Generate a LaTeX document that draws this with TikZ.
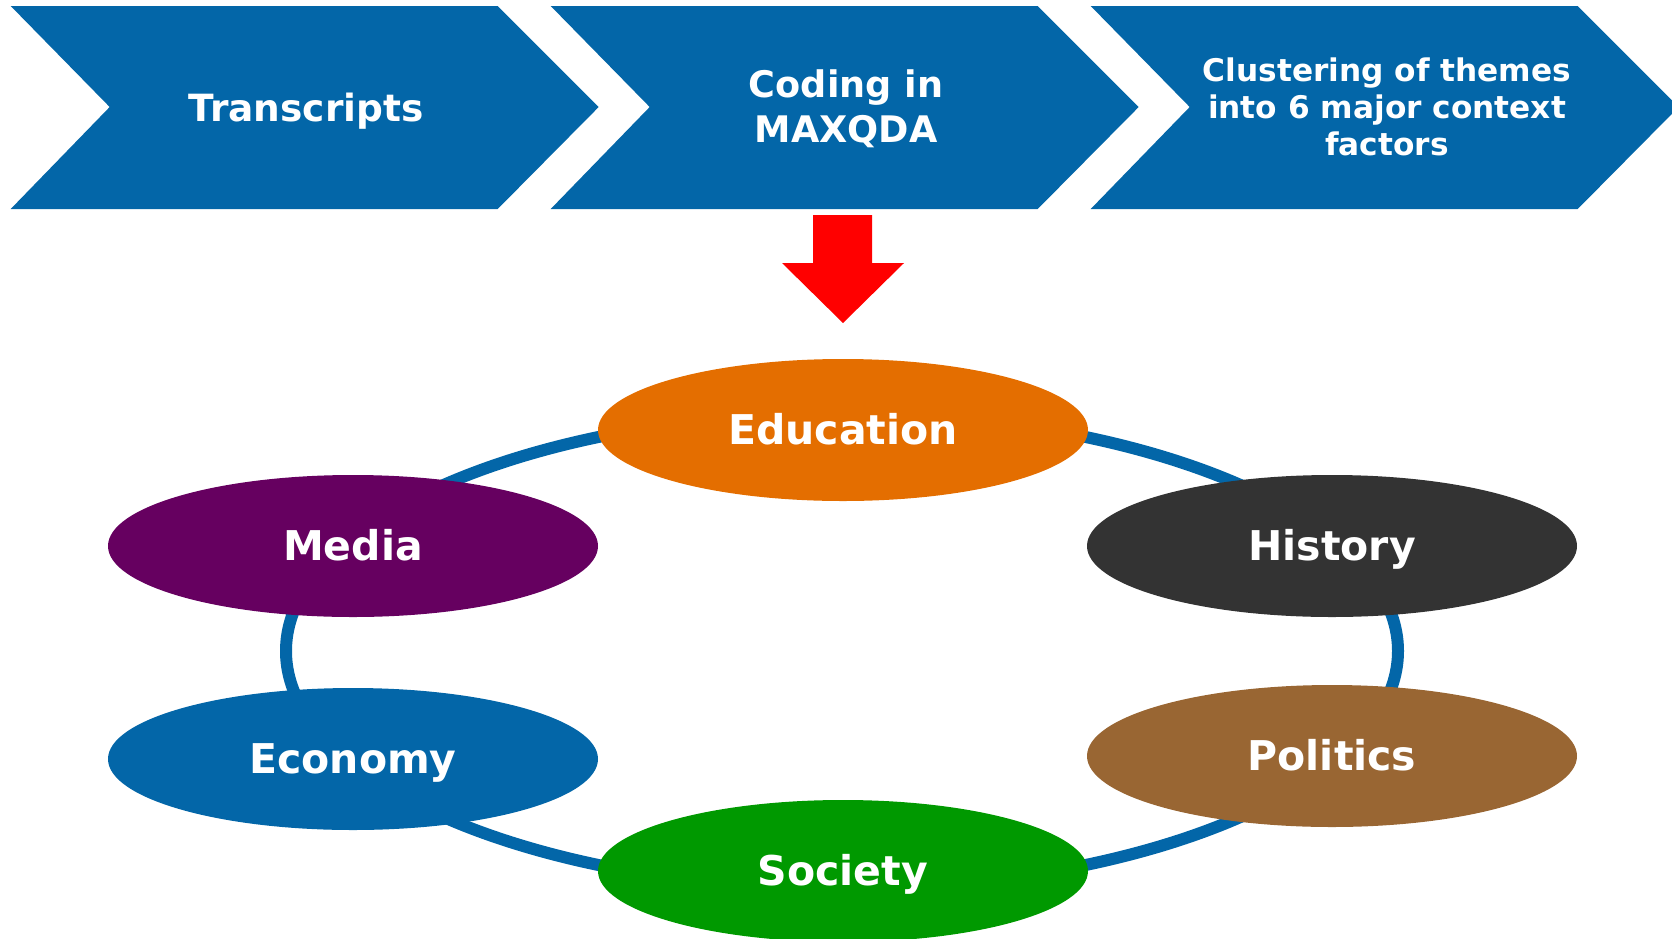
\documentclass[tikz,border=0pt]{standalone}
\usepackage{fontspec}
\setmainfont{DejaVu Sans}
\usetikzlibrary{shapes.geometric}
\definecolor{cblue}{HTML}{0366A8}
\definecolor{corange}{HTML}{E46E00}
\definecolor{cpurple}{HTML}{660060}
\definecolor{cgrey}{HTML}{333333}
\definecolor{cbrown}{HTML}{996633}
\definecolor{cgreen}{HTML}{009900}
\definecolor{cred}{HTML}{FF0000}
\begin{document}
\begin{tikzpicture}[x=0.5pt,y=-0.5pt,
  chevtext/.style={text=white,align=center,inner sep=0pt},
  factor/.style={ellipse,inner sep=0pt,minimum width=245pt,minimum height=71pt,
    text=white,font=\bfseries\fontsize{20.5}{24}\selectfont,
    text height=14.9pt,text depth=0pt}]
\useasboundingbox (0,0) rectangle (1672,938);
% chevrons
\foreach \L in {10.7,550.7,1090.7}
  \fill[cblue] (\L,6) -- ++(487,0) -- ++(101,101) -- ++(-101,102) -- ++(-487,0) -- ++(99,-102) -- cycle;
\node[chevtext,font=\bfseries\fontsize{18.75}{22}\selectfont,anchor=base] (t1) at (306,121) {Transcripts};
\node[chevtext,font=\bfseries\fontsize{18.3}{22.5}\selectfont] (t2) at (846,109) {Coding in\\MAXQDA};
\node[chevtext,font=\bfseries\fontsize{15.6}{18.4}\selectfont] (t3) at (1387,107) {Clustering of themes\\into 6 major context\\factors};
% red arrow
\fill[cred] (813,215) -- (872,215) -- (872,263) -- (904,263) -- (843,323) -- (782,263) -- (813,263) -- cycle;
% ring
\coordinate (ring) at (842,651);
\draw[cblue,line width=6pt] (ring) ellipse [x radius=556, y radius=238];
% factors
\node[factor,fill=corange] (edu) at (843,430) {Education};
\node[factor,fill=cpurple] (med) at (353,546) {Media};
\node[factor,fill=cblue] (eco) at (353,759) {Economy};
\node[factor,fill=cgrey] (his) at (1332,546) {History};
\node[factor,fill=cbrown] (pol) at (1332,756) {Politics};
\node[factor,fill=cgreen] (soc) at (843,871) {Society};
\end{tikzpicture}
\end{document}
